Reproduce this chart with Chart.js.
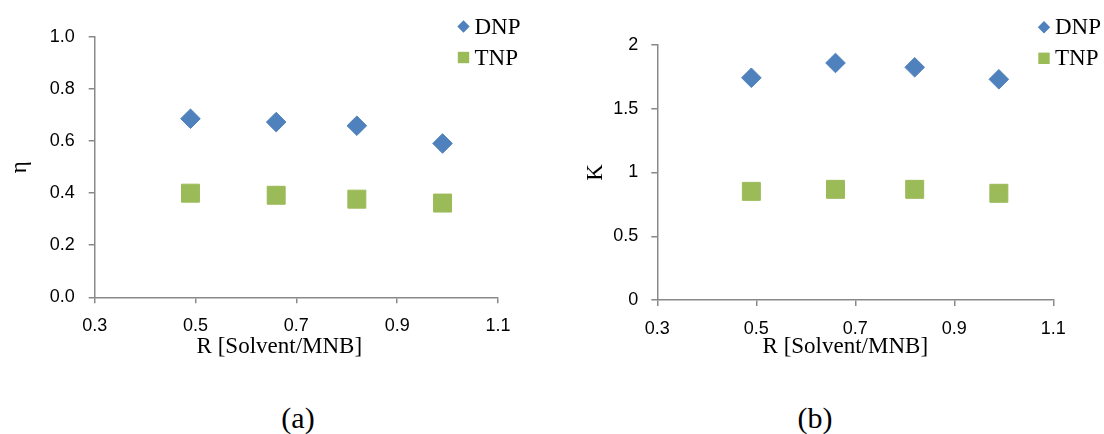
<!DOCTYPE html>
<html>
<head>
<meta charset="utf-8">
<script src="https://cdn.jsdelivr.net/npm/chart.js@4"></script>
<style>
  html, body { margin: 0; padding: 0; background: #fff; }
  body { width: 1104px; height: 434px; position: relative; overflow: hidden; }
  .wrap { position: absolute; top: 0; width: 552px; height: 380px; }
  .cap { position: absolute; font-family: 'Liberation Serif', serif; font-size: 30px; color: #000; transform: translate(-50%, -50%); white-space: nowrap; }
</style>
</head>
<body>
<div class="wrap" style="left:0"><canvas id="chA" width="552" height="380"></canvas></div>
<div class="wrap" style="left:552px"><canvas id="chB" width="552" height="380"></canvas></div>
<div class="cap" style="left:298px; top:418px">(a)</div>
<div class="cap" style="left:815px; top:418px">(b)</div>
<script>
// ---- data ----
const seriesNames = ['DNP', 'TNP'];
const xR = [0.49, 0.66, 0.82, 0.99];
const etaDNP = [0.686, 0.673, 0.659, 0.591];
const etaTNP = [0.400, 0.392, 0.377, 0.362];
const kDNP = [1.743, 1.859, 1.825, 1.731];
const kTNP = [0.852, 0.868, 0.868, 0.837];
const xTickValues = [0.3, 0.5, 0.7, 0.9, 1.1];
const xTickLabels = ['0.3', '0.5', '0.7', '0.9', '1.1'];
const etaTickValues = [0, 0.2, 0.4, 0.6, 0.8, 1.0];
const etaTickLabels = ['0.0', '0.2', '0.4', '0.6', '0.8', '1.0'];
const kTickValues = [0, 0.5, 1, 1.5, 2];
const kTickLabels = ['0', '0.5', '1', '1.5', '2'];
const xTitle = 'R [Solvent/MNB]';

const BLUE = '#4F81BD';
const GREEN = '#9BBB59';
const AXIS = '#898989';

const miniLegend = {
  id: 'miniLegend',
  afterDraw(chart, args, o) {
    const ctx = chart.ctx;
    ctx.save();
    chart.data.datasets.forEach((ds, i) => {
      const cx = o.x, cy = o.y + i * o.gap;
      ctx.fillStyle = ds.backgroundColor;
      ctx.beginPath();
      if (ds.pointStyle === 'rectRot') {
        const r = 6.2;
        ctx.moveTo(cx - r, cy); ctx.lineTo(cx, cy - r); ctx.lineTo(cx + r, cy); ctx.lineTo(cx, cy + r);
      } else {
        const h = 5.7;
        ctx.rect(cx - h, cy - h, 2 * h, 2 * h);
      }
      ctx.closePath();
      ctx.fill();
      ctx.fillStyle = '#000';
      ctx.font = "23px 'Liberation Serif'";
      ctx.textBaseline = 'middle';
      ctx.textAlign = 'left';
      ctx.fillText(ds.label, cx + 11, cy + 1);
    });
    ctx.restore();
  }
};

const xAxisTitle = {
  id: 'xAxisTitle',
  afterDraw(chart, args, o) {
    const a = chart.chartArea;
    const ctx = chart.ctx;
    ctx.save();
    ctx.fillStyle = '#000';
    ctx.font = "23px 'Liberation Serif'";
    ctx.textAlign = 'center';
    ctx.textBaseline = 'middle';
    ctx.fillText(o.text, (a.left + a.right) / 2 + o.dx, o.y);
    ctx.restore();
  }
};

function pts(xs, ys) { return xs.map((x, i) => ({ x: x, y: ys[i] })); }

function makeChart(id, cfg) {
  return new Chart(document.getElementById(id), {
    type: 'scatter',
    data: {
      datasets: [
        { label: seriesNames[0], data: pts(xR, cfg.dnp), pointStyle: 'rectRot', pointRadius: 9.8, backgroundColor: BLUE, borderColor: BLUE, borderWidth: 1, pointHoverRadius: 9.8 },
        { label: seriesNames[1], data: pts(xR, cfg.tnp), pointStyle: 'rect', pointRadius: 12.7, backgroundColor: GREEN, borderColor: GREEN, borderWidth: 1, pointHoverRadius: 12.7 }
      ]
    },
    options: {
      responsive: false,
      animation: false,
      events: [],
      layout: { padding: { left: 0, top: cfg.top, right: cfg.right, bottom: cfg.bottom } },
      plugins: {
        legend: { display: false },
        tooltip: { enabled: false },
        miniLegend: { x: cfg.lx, y: cfg.ly, gap: 31 },
        xAxisTitle: { text: xTitle, dx: cfg.tdx, y: 347 }
      },
      scales: {
        x: {
          type: 'linear', min: 0.3, max: 1.1,
          afterBuildTicks: s => { s.ticks = xTickValues.map(v => ({ value: v })); },
          afterFit: s => { s.height = 70; },
          ticks: { callback: (v, i) => xTickLabels[i], color: '#000', font: { family: "'Liberation Sans'", size: 18 }, padding: 12, maxRotation: 0, autoSkip: false },
          grid: { drawOnChartArea: false, drawTicks: true, tickLength: 6, color: AXIS, lineWidth: 1.5 },
          border: { display: true, color: AXIS, width: 1.5 },
          title: { display: false }
        },
        y: {
          type: 'linear', min: cfg.ymin, max: cfg.ymax,
          afterBuildTicks: s => { s.ticks = cfg.yTicks.map(v => ({ value: v })); },
          afterFit: s => { s.width = cfg.yWidth; },
          ticks: { callback: (v, i) => cfg.yLabels[i], color: '#000', font: { family: "'Liberation Sans'", size: 18 }, padding: cfg.ytickPad, autoSkip: false },
          grid: { drawOnChartArea: false, drawTicks: true, tickLength: 6, color: AXIS, lineWidth: 1.5 },
          border: { display: true, color: AXIS, width: 1.5 },
          title: { display: true, text: cfg.yTitle, color: '#000', font: { family: "'Liberation Serif'", size: 23 }, padding: { top: cfg.ytPad, bottom: 0 } }
        }
      }
    },
    plugins: [miniLegend, xAxisTitle]
  });
}

makeChart('chA', {
  dnp: etaDNP, tnp: etaTNP, ymin: 0, ymax: 1.0, yTicks: etaTickValues, yLabels: etaTickLabels, yTitle: 'η',
  top: 37, right: 552 - 498, bottom: 380 - 297.3 - 70, yWidth: 94.7, ytPad: 6.5, ytickPad: 14,
  lx: 463.5, ly: 26.5, tdx: -17
});
makeChart('chB', {
  dnp: kDNP, tnp: kTNP, ymin: 0, ymax: 2, yTicks: kTickValues, yLabels: kTickLabels, yTitle: 'K',
  top: 45, right: 552 - 501.3, bottom: 380 - 300 - 70, yWidth: 105.3, ytPad: 30.5, ytickPad: 13,
  lx: 492, ly: 27.3, tdx: -10
});
</script>
</body>
</html>
